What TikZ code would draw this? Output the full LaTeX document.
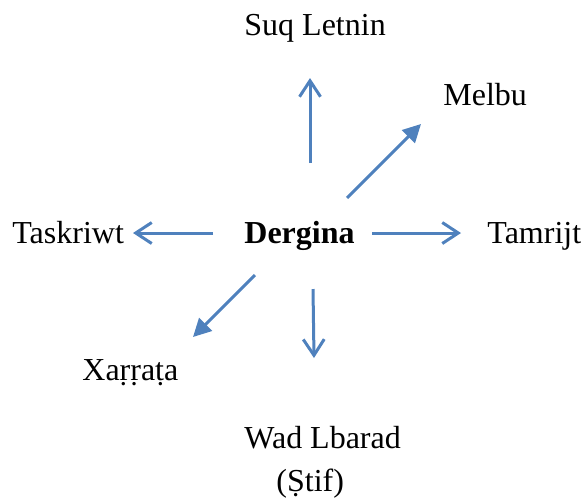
\documentclass[tikz,border=0pt]{standalone}
\usepackage{fontspec}
\setmainfont{Liberation Serif}
\usepackage{tikz}
\usetikzlibrary{arrows.meta}

\definecolor{arrowblue}{HTML}{4F81BD}

\tikzset{
    place/.style={anchor=base west, inner sep=0pt, font=\fontsize{16}{21.5}\selectfont},
    openarrow/.style={draw=arrowblue, line width=1.5pt, -{Straight Barb[length=8pt,width=10.5pt]}},
    fullarrow/.style={draw=arrowblue, line width=1.5pt, -{Triangle[length=9pt,width=9pt]}}
}

\begin{document}
\begin{tikzpicture}[x=0.5pt, y=-0.5pt]
    \useasboundingbox (0,0) rectangle (581,499);

    % Place names
    \node[place] (dergina) at (244,243) {\textbf{Dergina}};
    \node[place] (suq) at (244,35) {Suq Letnin};
    \node[place] (melbu) at (443,105) {Melbu};
    \node[place] (taskriwt) at (12,243) {Taskriwt};
    \node[place] (tamrijt) at (487,243) {Tamrijt};
    \node[place] (xarrata) at (82,380) {Xaṛṛaṭa};
    \node[place, align=left] (wad) at (244,491) {Wad Lbarad\\\hspace*{1em}(Ṣtif)};

    % Arrow ends
    \coordinate (upA) at (310,163);   \coordinate (upB) at (310,78);
    \coordinate (neA) at (347,198);   \coordinate (neB) at (421,124);
    \coordinate (leA) at (213,233);   \coordinate (leB) at (133,233);
    \coordinate (riA) at (372,233);   \coordinate (riB) at (461,233);
    \coordinate (swA) at (255,275);   \coordinate (swB) at (193,337);
    \coordinate (dnA) at (313,289);   \coordinate (dnB) at (314,358);

    % Arrows
    \draw[openarrow] (upA) -- (upB);
    \draw[fullarrow] (neA) -- (neB);
    \draw[openarrow] (leA) -- (leB);
    \draw[openarrow] (riA) -- (riB);
    \draw[fullarrow] (swA) -- (swB);
    \draw[openarrow] (dnA) -- (dnB);
\end{tikzpicture}
\end{document}
